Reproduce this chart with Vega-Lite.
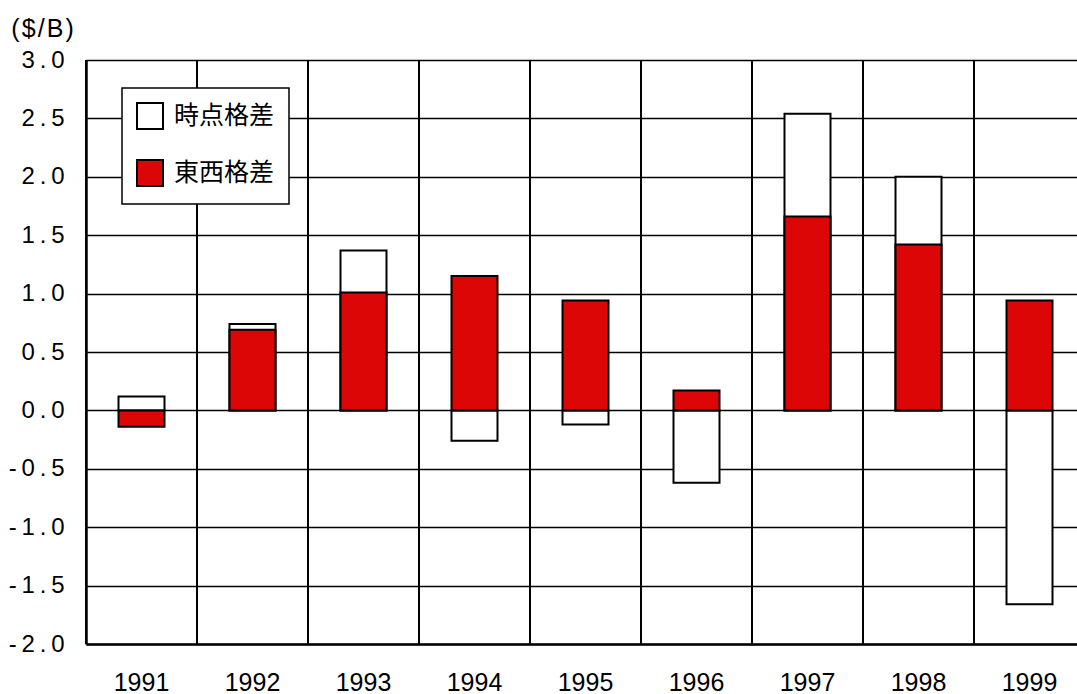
{
  "$schema": "https://vega.github.io/schema/vega-lite/v6.json",
  "autosize": "none",
  "padding": {"left": 86, "top": 60, "right": 0, "bottom": 50},
  "width": 999,
  "height": 584,
  "background": "white",
  "config": {
    "view": {"stroke": null},
    "font": "Liberation Sans"
  },
  "data": {
    "values": [
      {"year": "1991", "series": "時点格差", "value": 0.12},
      {"year": "1992", "series": "時点格差", "value": 0.74},
      {"year": "1993", "series": "時点格差", "value": 1.37},
      {"year": "1994", "series": "時点格差", "value": -0.26},
      {"year": "1995", "series": "時点格差", "value": -0.12},
      {"year": "1996", "series": "時点格差", "value": -0.62},
      {"year": "1997", "series": "時点格差", "value": 2.54},
      {"year": "1998", "series": "時点格差", "value": 2.0},
      {"year": "1999", "series": "時点格差", "value": -1.66},
      {"year": "1991", "series": "東西格差", "value": -0.14},
      {"year": "1992", "series": "東西格差", "value": 0.69},
      {"year": "1993", "series": "東西格差", "value": 1.01},
      {"year": "1994", "series": "東西格差", "value": 1.15},
      {"year": "1995", "series": "東西格差", "value": 0.94},
      {"year": "1996", "series": "東西格差", "value": 0.17},
      {"year": "1997", "series": "東西格差", "value": 1.66},
      {"year": "1998", "series": "東西格差", "value": 1.42},
      {"year": "1999", "series": "東西格差", "value": 0.94}
    ]
  },
  "layer": [
    {
      "transform": [{"filter": "datum.series === '東西格差'"}],
      "mark": {"type": "rule", "color": "black", "strokeWidth": 2},
      "encoding": {
        "x": {"field": "year", "type": "ordinal", "bandPosition": 0,
              "scale": {"paddingInner": 0, "paddingOuter": 0}}
      }
    },
    {
      "mark": {"type": "bar", "width": 46, "stroke": "black", "strokeWidth": 2},
      "encoding": {
        "x": {"field": "year", "type": "ordinal",
              "scale": {"paddingInner": 0, "paddingOuter": 0},
              "axis": {"title": null, "labelAngle": 0, "ticks": false, "labelPadding": 38,
                       "bandPosition": 0.5, "labelAlign": "center",
                       "labelFontSize": 25, "labelColor": "black", "labelFont": "Liberation Sans",
                       "domainColor": "black", "domainWidth": 2.5, "grid": false}},
        "y": {"field": "value", "type": "quantitative", "stack": null,
              "scale": {"domain": [-2, 3], "nice": false, "zero": false},
              "axis": {"title": "(\u200a$\u200a/\u200aB\u200a)", "titleAngle": 0, "titleX": -44, "titleY": -32,
                       "titleAlign": "center", "titleBaseline": "middle", "titleFontSize": 25,
                       "titleFontWeight": "normal", "titleColor": "black", "titleFont": "Liberation Sans",
                       "values": [-2, -1.5, -1, -0.5, 0, 0.5, 1, 1.5, 2, 2.5, 3],
                       "labelExpr": "replace(replace(format(datum.value, '.1f'), '.', '\u2009.\u2009'), '\u2212', '-\u2009')",
                       "labelFontSize": 24, "labelColor": "black", "labelFont": "Liberation Sans",
                       "ticks": false, "labelPadding": 22,
                       "grid": true, "gridColor": "black", "gridWidth": 1.5, "gridOpacity": 1,
                       "domainColor": "black", "domainWidth": 2.5}},
        "color": {"field": "series", "type": "nominal",
                  "scale": {"domain": ["時点格差", "東西格差"], "range": ["#ffffff", "#dc0606"]},
                  "legend": {"title": null, "orient": "none", "legendX": 36, "legendY": 28,
                             "fillColor": "white", "strokeColor": "black",
                             "padding": 14, "symbolType": "square", "symbolSize": 676,
                             "symbolStrokeColor": "black", "symbolStrokeWidth": 2,
                             "labelFont": "Noto Sans CJK JP", "labelFontSize": 25, "labelColor": "black",
                             "labelOffset": 10, "rowPadding": 23,
                             "encode": {"legend": {"update": {"strokeWidth": {"value": 1.5}}}}}},
        "order": {"field": "series", "sort": "ascending"}
      }
    }
  ]
}
